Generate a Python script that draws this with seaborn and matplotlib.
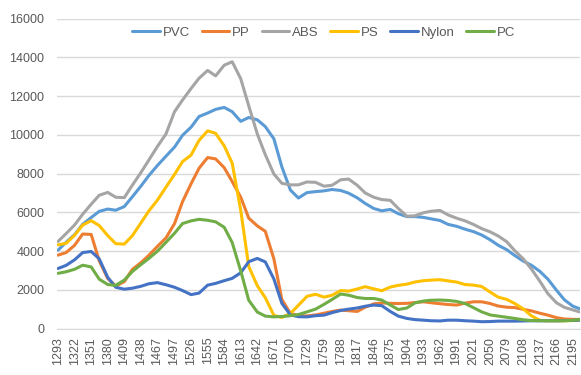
# Plastic spectra comparison - line chart recreated with seaborn
import pandas as pd
import matplotlib
matplotlib.use("Agg")
import matplotlib.pyplot as plt
import seaborn as sns

# --------------------------------------
# Data
# --------------------------------------
wavenumber = [1293, 1307, 1322, 1336, 1351, 1365, 1380, 1394, 1409, 1423,
              1438, 1452, 1467, 1482, 1497, 1511, 1526, 1540, 1555, 1569,
              1584, 1598, 1613, 1627, 1642, 1656, 1671, 1685, 1700, 1714,
              1729, 1744, 1759, 1773, 1788, 1802, 1817, 1831, 1846, 1860,
              1875, 1889, 1904, 1918, 1933, 1947, 1962, 1976, 1991, 2006,
              2021, 2035, 2050, 2064, 2079, 2093, 2108, 2122, 2137, 2151,
              2166, 2180, 2195, 2206]

tick_labels = [1293, 1322, 1351, 1380, 1409, 1438, 1467, 1497, 1526, 1555,
               1584, 1613, 1642, 1671, 1700, 1729, 1759, 1788, 1817, 1846,
               1875, 1904, 1933, 1962, 1991, 2021, 2050, 2079, 2108, 2137,
               2166, 2195]

pvc = [4050, 4450, 4850, 5380, 5730, 6050, 6170, 6110, 6300, 6800,
       7350, 7900, 8420, 8900, 9370, 9980, 10400, 10950, 11130, 11320,
       11420, 11200, 10700, 10900, 10780, 10430, 9800, 8350, 7150, 6740,
       7020, 7070, 7110, 7180, 7130, 6990, 6750, 6460, 6200, 6080,
       6150, 5930, 5780, 5780, 5740, 5660, 5580, 5380, 5280, 5130,
       5000, 4830, 4580, 4300, 4070, 3770, 3480, 3270, 2950, 2550,
       1980, 1480, 1150, 1030]

pp = [3790, 3920, 4300, 4880, 4860, 3500, 2580, 2190, 2420, 3050,
      3400, 3780, 4240, 4680, 5420, 6550, 7480, 8280, 8830, 8760,
      8310, 7590, 6780, 5700, 5300, 5020, 3600, 1500, 780, 670,
      650, 700, 790, 880, 950, 920, 880, 1100, 1270, 1320,
      1300, 1290, 1300, 1340, 1380, 1330, 1280, 1240, 1210, 1310,
      1380, 1380, 1290, 1160, 1100, 1080, 990, 910, 790, 690,
      560, 490, 470, 470]

abs_ = [4500, 4900, 5350, 5900, 6420, 6880, 7030, 6780, 6760, 7400,
        8050, 8700, 9400, 10050, 11200, 11800, 12400, 12930, 13330, 13050,
        13600, 13780, 12900, 11500, 10050, 8980, 7980, 7500, 7420, 7420,
        7570, 7550, 7350, 7400, 7680, 7720, 7400, 7000, 6780, 6660,
        6620, 6200, 5800, 5820, 5980, 6060, 6100, 5870, 5700, 5560,
        5370, 5160, 4990, 4780, 4480, 4020, 3590, 3080, 2440, 1800,
        1330, 1090, 960, 860]

ps = [4320, 4400, 4820, 5340, 5570, 5320, 4800, 4380, 4360, 4790,
      5450, 6070, 6630, 7300, 7960, 8620, 8960, 9720, 10210, 10080,
      9440, 8540, 6100, 3200, 2210, 1590, 680, 570, 780, 1200,
      1660, 1770, 1620, 1720, 1960, 1930, 2040, 2160, 2050, 1950,
      2140, 2230, 2290, 2400, 2470, 2500, 2520, 2460, 2400, 2270,
      2240, 2170, 1880, 1620, 1500, 1290, 1010, 660, 420, 400,
      400, 400, 410, 430]

nylon = [3100, 3260, 3550, 3920, 3980, 3600, 2640, 2130, 2030, 2080,
         2180, 2310, 2370, 2260, 2130, 1960, 1750, 1830, 2240, 2330,
         2470, 2590, 2880, 3450, 3620, 3440, 2560, 1300, 700, 610,
         600, 660, 690, 820, 930, 1000, 1060, 1150, 1210, 1180,
         880, 640, 520, 460, 430, 400, 390, 430, 430, 400,
         380, 350, 360, 380, 380, 380, 390, 400, 400, 400,
         400, 410, 420, 430]

pc = [2850, 2930, 3060, 3270, 3180, 2550, 2270, 2230, 2500, 2940,
      3300, 3620, 3990, 4450, 4920, 5420, 5560, 5640, 5590, 5510,
      5230, 4440, 2970, 1460, 850, 640, 600, 620, 660, 720,
      860, 1000, 1250, 1500, 1780, 1720, 1600, 1550, 1550, 1470,
      1210, 980, 1060, 1320, 1420, 1460, 1470, 1450, 1400, 1290,
      1070, 860, 700, 640, 580, 520, 450, 410, 400, 400,
      400, 400, 420, 470]

polymers = ["PVC", "PP", "ABS", "PS", "Nylon", "PC"]
colors = {"PVC": "#5B9BD5", "PP": "#ED7D31", "ABS": "#A5A5A5",
          "PS": "#FFC000", "Nylon": "#4472C4", "PC": "#70AD47"}

df = pd.DataFrame({"wavenumber": wavenumber, "PVC": pvc, "PP": pp,
                   "ABS": abs_, "PS": ps, "Nylon": nylon, "PC": pc})
long_df = df.melt(id_vars="wavenumber", var_name="polymer", value_name="value")

# --------------------------------------
# Plot
# --------------------------------------
sns.set_style("white")
plt.rcParams["font.family"] = ["Liberation Sans", "DejaVu Sans"]

fig = plt.figure(figsize=(5.81, 3.75), dpi=100)
ax = fig.add_axes([0.098, 0.124, 0.900, 0.826])

sns.lineplot(data=long_df, x="wavenumber", y="value", hue="polymer",
             hue_order=polymers, palette=colors, linewidth=2.2, ax=ax)

ax.set_xlim(1291, 2207)
ax.set_ylim(0, 16000)
ax.set_yticks(range(0, 16001, 2000))
ax.set_xticks(tick_labels)
ax.set_xticklabels([str(t) for t in tick_labels], rotation=90)
ax.grid(axis="y", color="#D9D9D9", linewidth=1)
ax.set_axisbelow(True)
for s in ["top", "right", "left"]:
    ax.spines[s].set_visible(False)
ax.spines["bottom"].set_color("#D9D9D9")
ax.tick_params(axis="both", length=0, labelsize=9, colors="#595959")
ax.tick_params(axis="y", pad=9)
ax.tick_params(axis="x", pad=6)
ax.set_xlabel("")
ax.set_ylabel("")

ax.legend(loc="center", bbox_to_anchor=(0.51, 0.955), ncol=6, frameon=False,
          fontsize=9.5, handlelength=2.1, handletextpad=0.2, columnspacing=0.9,
          labelcolor="#595959")

fig.savefig("out.png", dpi=100)
